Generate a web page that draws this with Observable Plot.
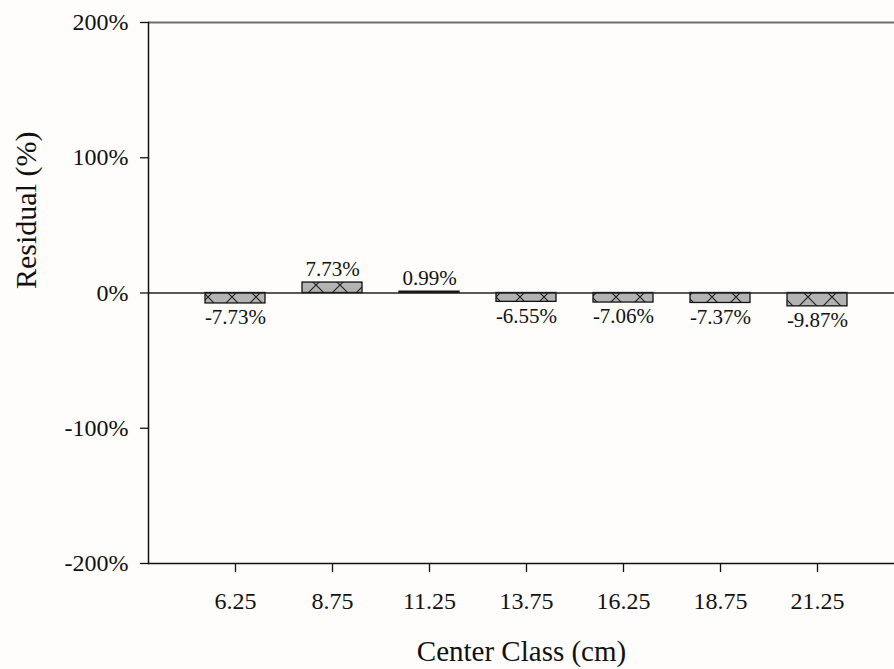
<!DOCTYPE html>
<html><head><meta charset="utf-8">
<script src="https://cdn.jsdelivr.net/npm/d3@7"></script>
<script src="https://cdn.jsdelivr.net/npm/@observablehq/plot@0.6"></script>
<style>
html,body{margin:0;padding:0;background:#fefdfb;overflow:hidden}
#chart svg{display:block}
</style>
</head><body>
<svg width="0" height="0" style="position:absolute">
  <defs>
    <pattern id="hatch" patternUnits="userSpaceOnUse" width="24" height="24" x="220" y="285">
      <rect width="24" height="24" fill="#b3b3b3"/>
      <path d="M-6,-6L30,30M30,-6L-6,30" stroke="#222" stroke-width="1.2"/>
    </pattern>
  </defs>
</svg>
<div id="chart"></div>
<script>
const classes = ["6.25", "8.75", "11.25", "13.75", "16.25", "18.75", "21.25"];
const residuals = [-7.73, 7.73, 0.99, -6.55, -7.06, -7.37, -9.87];
const yTicks = [-200, -100, 0, 100, 200];
const xTitle = "Center Class (cm)";
const yTitle = "Residual (%)";

const data = classes.map((c, i) => ({c, r: residuals[i]}));
const fmt = d => `${d.r.toFixed(2)}%`;

const chart = Plot.plot({
  width: 894,
  height: 669,
  marginLeft: 148,
  marginRight: 0,
  marginTop: 22,
  marginBottom: 106,
  style: {fontFamily: "'Liberation Serif', 'Times New Roman', serif", background: "transparent", color: "#111"},
  x: {type: "band", domain: classes, range: [148, 904], paddingInner: 0.385, paddingOuter: 0.566, axis: null},
  y: {domain: [-200, 200], range: [563, 22], axis: null},
  marks: [
    Plot.barY(data, {x: "c", y: "r", fill: "url(#hatch)", stroke: "#111", strokeWidth: 1.3}),
    Plot.ruleY([200], {stroke: "#6e6e6e", strokeWidth: 2}),
    Plot.ruleY([-200], {stroke: "#111", strokeWidth: 1.5}),
    Plot.ruleY([0], {stroke: "#222", strokeWidth: 1.3}),
    Plot.frame({anchor: "left", stroke: "#111", strokeWidth: 1.5}),
    Plot.axisY({ticks: yTicks, tickFormat: d => `${d}%`, tickSize: 8, tickPadding: 12, fontSize: 24, label: null, strokeWidth: 1.3}),
    Plot.axisX({tickSize: 9, tickPadding: 19, fontSize: 24, label: null, strokeWidth: 1.3}),
    Plot.text(data, {filter: d => d.r >= 0, x: "c", y: "r", text: fmt, fontSize: 21, lineAnchor: "bottom", dy: -7, fill: "#111"}),
    Plot.text(data, {filter: d => d.r < 0, x: "c", y: "r", text: fmt, fontSize: 21, lineAnchor: "top", dy: 6, fill: "#111"}),
    Plot.text([xTitle], {text: d => d, frameAnchor: "bottom", dy: 88, fontSize: 29, lineAnchor: "middle", fill: "#111"}),
    Plot.text([yTitle], {text: d => d, frameAnchor: "left", dx: -122, dy: -4, rotate: -90, fontSize: 30, lineAnchor: "middle", fill: "#111"})
  ]
});
document.getElementById("chart").append(chart);
</script>
</body></html>
